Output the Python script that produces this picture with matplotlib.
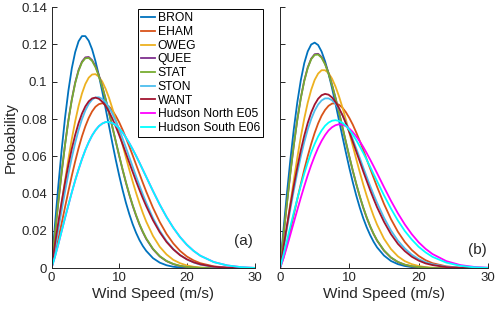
import numpy as np
import matplotlib
matplotlib.use("Agg")
import matplotlib.pyplot as plt

plt.rcParams['font.family'] = ['Liberation Sans', 'DejaVu Sans']

# wind speed grid (m/s)
wind = [0, 0.5, 1, 1.5, 2, 2.5, 3, 3.5, 4, 4.5, 5, 5.5, 6, 6.5, 7, 7.5, 8, 8.5, 9, 9.5,
        10, 10.5, 11, 11.5, 12, 12.5, 13, 13.5, 14, 15, 16, 17, 18, 19, 20, 21, 22,
        24, 26, 28, 30]

sites = ["BRON", "EHAM", "OWEG", "QUEE", "STAT", "STON", "WANT",
         "Hudson North E05", "Hudson South E06"]
colors = ["#0072BD", "#D95319", "#EDB120", "#7E2F8E", "#77AC30",
          "#4DBEEE", "#A2142F", "#FF00FF", "#00FFFF"]

# probability x 1e-4, panel (a)
a_bron = [0, 229, 440, 634, 807, 953, 1072, 1159, 1217, 1245, 1245, 1220, 1174, 1110, 1034, 948, 856, 763, 670, 581,
          498, 421, 351, 290, 236, 190, 151, 119, 93, 54, 30, 16, 8, 4, 2, 1, 0, 0, 0, 0, 0]
a_eham = [0, 71, 154, 241, 328, 414, 496, 573, 644, 707, 761, 806, 841, 866, 880, 885, 880, 867, 846, 817,
          783, 743, 699, 653, 605, 556, 507, 458, 411, 324, 248, 184, 133, 93, 63, 42, 27, 10, 3, 1, 0]
a_oweg = [0, 105, 226, 349, 470, 586, 693, 788, 870, 937, 988, 1022, 1039, 1041, 1027, 1001, 962, 914, 857, 795,
          730, 662, 594, 528, 464, 404, 348, 296, 250, 173, 115, 74, 45, 27, 15, 8, 4, 1, 0, 0, 0]
a_quee = [0, 180, 352, 514, 663, 794, 905, 996, 1063, 1108, 1131, 1133, 1116, 1083, 1035, 976, 908, 834, 757, 680,
          603, 529, 459, 394, 335, 282, 234, 193, 157, 102, 63, 38, 22, 12, 6, 3, 2, 0, 0, 0, 0]
a_stat = [0, 181, 353, 515, 662, 793, 903, 992, 1059, 1104, 1126, 1128, 1112, 1078, 1031, 973, 906, 833, 757, 680,
          604, 531, 461, 397, 338, 285, 237, 196, 160, 104, 65, 39, 23, 13, 7, 4, 2, 0, 0, 0, 0]
a_ston = [0, 101, 206, 310, 411, 506, 593, 672, 741, 799, 846, 881, 904, 916, 917, 908, 890, 863, 829, 790,
          745, 697, 647, 596, 544, 493, 444, 396, 351, 269, 201, 146, 103, 71, 47, 31, 19, 7, 2, 1, 0]
a_want = [0, 127, 245, 356, 460, 555, 641, 715, 778, 829, 868, 895, 911, 915, 909, 893, 870, 839, 802, 760,
          714, 666, 616, 566, 516, 467, 420, 375, 333, 257, 193, 141, 101, 70, 48, 32, 21, 8, 3, 1, 0]
a_hudn = [0, 60, 128, 199, 270, 339, 407, 471, 530, 585, 634, 676, 712, 740, 762, 776, 784, 784, 779, 767,
          750, 728, 701, 671, 638, 603, 566, 528, 490, 414, 341, 275, 217, 167, 126, 93, 67, 33, 15, 6, 2]
a_huds = [0, 60, 128, 199, 270, 339, 407, 471, 530, 585, 634, 676, 712, 740, 762, 776, 784, 784, 779, 767,
          750, 728, 701, 671, 638, 603, 566, 528, 490, 414, 341, 275, 217, 167, 126, 93, 67, 33, 15, 6, 2]

# probability x 1e-4, panel (b)
b_bron = [0, 206, 401, 584, 748, 891, 1008, 1100, 1163, 1200, 1210, 1197, 1162, 1110, 1044, 967, 883, 795, 707, 621,
          538, 461, 390, 326, 269, 220, 178, 142, 112, 68, 39, 22, 12, 6, 3, 1, 1, 0, 0, 0, 0]
b_eham = [0, 56, 128, 207, 289, 371, 451, 529, 601, 667, 726, 777, 818, 849, 871, 883, 885, 877, 861, 837,
          806, 770, 728, 683, 635, 585, 535, 486, 437, 345, 264, 196, 141, 98, 66, 43, 27, 10, 3, 1, 0]
b_oweg = [0, 103, 224, 350, 474, 594, 704, 803, 888, 957, 1010, 1044, 1062, 1062, 1047, 1017, 975, 923, 863, 797,
          727, 656, 585, 516, 450, 389, 332, 280, 234, 158, 103, 64, 38, 22, 12, 6, 3, 1, 0, 0, 0]
b_quee = [0, 175, 348, 512, 663, 798, 913, 1007, 1077, 1124, 1148, 1150, 1133, 1097, 1047, 985, 915, 838, 758, 677,
          598, 522, 451, 385, 325, 271, 224, 183, 148, 94, 57, 33, 19, 10, 5, 3, 1, 0, 0, 0, 0]
b_stat = [0, 176, 349, 513, 663, 797, 912, 1004, 1074, 1121, 1144, 1146, 1129, 1094, 1044, 983, 913, 837, 758, 678,
          599, 524, 453, 387, 327, 274, 226, 185, 150, 96, 58, 34, 19, 11, 6, 3, 1, 0, 0, 0, 0]
b_ston = [0, 106, 213, 318, 418, 513, 599, 676, 744, 800, 845, 878, 900, 911, 911, 901, 882, 855, 822, 782,
          738, 691, 642, 592, 541, 491, 442, 395, 351, 271, 203, 148, 106, 73, 49, 32, 21, 8, 3, 1, 0]
b_want = [0, 114, 228, 339, 444, 542, 632, 711, 779, 835, 878, 909, 928, 935, 931, 916, 892, 860, 822, 778,
          730, 679, 626, 573, 520, 469, 419, 372, 327, 249, 183, 131, 92, 62, 41, 26, 17, 6, 2, 1, 0]
b_hudn = [0, 53, 115, 181, 247, 313, 378, 440, 499, 553, 602, 646, 683, 714, 739, 756, 767, 772, 770, 762,
          749, 730, 707, 681, 651, 618, 583, 547, 510, 435, 362, 295, 235, 183, 139, 104, 76, 38, 17, 7, 3]
b_huds = [0, 72, 148, 225, 300, 373, 443, 508, 567, 621, 667, 707, 739, 764, 781, 791, 794, 790, 780, 764,
          742, 717, 687, 654, 619, 582, 544, 505, 467, 391, 320, 256, 200, 154, 115, 85, 61, 30, 13, 5, 2]

panel_a = [a_bron, a_eham, a_oweg, a_quee, a_stat, a_ston, a_want, a_hudn, a_huds]
panel_b = [b_bron, b_eham, b_oweg, b_quee, b_stat, b_ston, b_want, b_hudn, b_huds]

axcol = "#262626"
fig = plt.figure(figsize=(5, 3.13), dpi=100)
ax1 = fig.add_axes([0.103, 0.143, 0.406, 0.834])
ax2 = fig.add_axes([0.56, 0.143, 0.416, 0.834])

for ax, curves, tag in [(ax1, panel_a, "(a)"), (ax2, panel_b, "(b)")]:
    for name, col, vals in zip(sites, colors, curves):
        ax.plot(wind, np.array(vals) / 1e4, color=col, lw=1.3, label=name)
    ax.set_xlim(0, 30)
    ax.set_ylim(0, 0.14)
    ax.set_xticks([0, 10, 20, 30])
    ax.set_yticks(np.arange(0, 0.141, 0.02))
    for s in ["top", "right"]:
        ax.spines[s].set_visible(False)
    for s in ["left", "bottom"]:
        ax.spines[s].set_color(axcol)
        ax.spines[s].set_linewidth(0.7)
    ax.tick_params(direction="in", length=3.5, width=0.7, colors=axcol,
                   labelsize=9.5, pad=3)
    ax.set_xlabel("Wind Speed (m/s)", fontsize=11, color=axcol, labelpad=2)
    ax.text(29.8, 0.0145 if tag == "(a)" else 0.0098, tag, ha="right", va="center",
            fontsize=11, color=axcol)

ax1.set_yticklabels(["0", "0.02", "0.04", "0.06", "0.08", "0.1", "0.12", "0.14"])
ax2.set_yticklabels([])
ax1.set_ylabel("Probability", fontsize=11, color=axcol, labelpad=3)

leg = ax1.legend(loc="upper left", bbox_to_anchor=(0.2766, 0.970),
                 bbox_transform=fig.transFigure, fontsize=8.7, frameon=True,
                 fancybox=False, framealpha=1, edgecolor="black",
                 handlelength=1.15, handletextpad=0.2, labelspacing=0.14,
                 borderpad=0.25, borderaxespad=0)
leg.get_frame().set_linewidth(0.7)

fig.savefig("out.png")
